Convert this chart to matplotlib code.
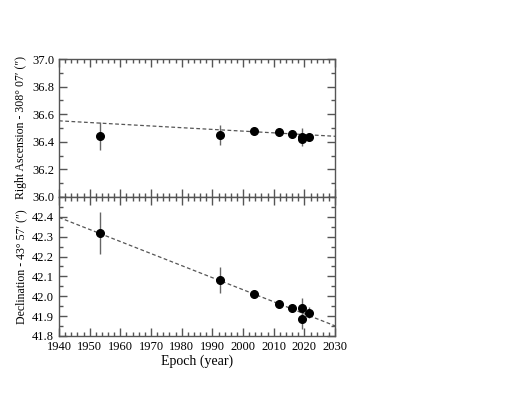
import numpy as np
import matplotlib
matplotlib.use("Agg")
import matplotlib.pyplot as plt
from matplotlib.ticker import MultipleLocator

plt.rcParams.update({
    "font.family": "serif", "font.serif": ["Liberation Serif", "DejaVu Serif"],
    "mathtext.fontset": "stix", "font.size": 9,
    "axes.linewidth": 1.0, "axes.edgecolor": "#555555",
    "xtick.direction": "in", "ytick.direction": "in",
    "xtick.top": True, "ytick.right": True,
    "xtick.color": "#555555", "ytick.color": "#555555",
    "xtick.labelcolor": "black", "ytick.labelcolor": "black",
})

# epochs (year) of the astrometric measurements
epoch = [1953.4, 1992.4, 2003.5, 2011.7, 2015.9, 2019.3, 2019.3, 2021.6]
# RA offsets (arcsec) and errors
ra = [36.44, 36.45, 36.477, 36.474, 36.457, 36.438, 36.42, 36.434]
ra_err = [0.10, 0.07, 0.008, 0.008, 0.008, 0.065, 0.01, 0.012]
# Dec offsets (arcsec) and errors
dec = [42.319, 42.08, 42.013, 41.963, 41.94, 41.94, 41.886, 41.918]
dec_err = [0.105, 0.065, 0.008, 0.008, 0.008, 0.05, 0.05, 0.027]
# linear proper-motion fits (value at 1940 and 2030)
fit_x = [1940, 2030]
ra_fit = [36.552, 36.44]
dec_fit = [42.397, 41.851]

fig = plt.figure(figsize=(5.1, 3.95), dpi=100)
ax1 = fig.add_axes([0.1157, 0.5013, 0.5413, 0.3493])
ax2 = fig.add_axes([0.1157, 0.1494, 0.5413, 0.3519], sharex=ax1)

for ax, y, e, f in [(ax1, ra, ra_err, ra_fit), (ax2, dec, dec_err, dec_fit)]:
    ax.plot(fit_x, f, ls=(0, (3, 2)), c="#555555", lw=0.9)
    ax.errorbar(epoch, y, yerr=e, fmt="o", c="black", ms=5.5,
                ecolor="#666666", elinewidth=1.0, capsize=0)
    ax.xaxis.set_major_locator(MultipleLocator(10))
    ax.xaxis.set_minor_locator(MultipleLocator(5))
    ax.tick_params(which="major", length=6, width=1.0, top=True, right=True)
    ax.tick_params(which="minor", length=3, width=1.0, top=True, right=True)
    ax.minorticks_on()

ax1.set_xlim(1940, 2030)
ax1.set_ylim(36.0, 37.0)
ax1.yaxis.set_major_locator(MultipleLocator(0.2))
ax1.yaxis.set_minor_locator(MultipleLocator(0.1))
ax1.tick_params(labelbottom=False)
ax1.set_ylabel("Right Ascension - 308° 07′ (″)", fontsize=8.5)

ax2.set_ylim(41.8, 42.5)
ax2.yaxis.set_major_locator(MultipleLocator(0.1))
ax2.yaxis.set_minor_locator(MultipleLocator(0.05))
ax2.set_yticks([41.8, 41.9, 42.0, 42.1, 42.2, 42.3, 42.4])
ax2.set_ylabel("Declination - 43° 57′ (″)", fontsize=8.5)
ax2.set_xlabel("Epoch (year)", fontsize=10, labelpad=1)

for ax in (ax1, ax2):
    ax.yaxis.set_label_coords(-0.115, 0.5)

plt.savefig("out.png", dpi=100)
